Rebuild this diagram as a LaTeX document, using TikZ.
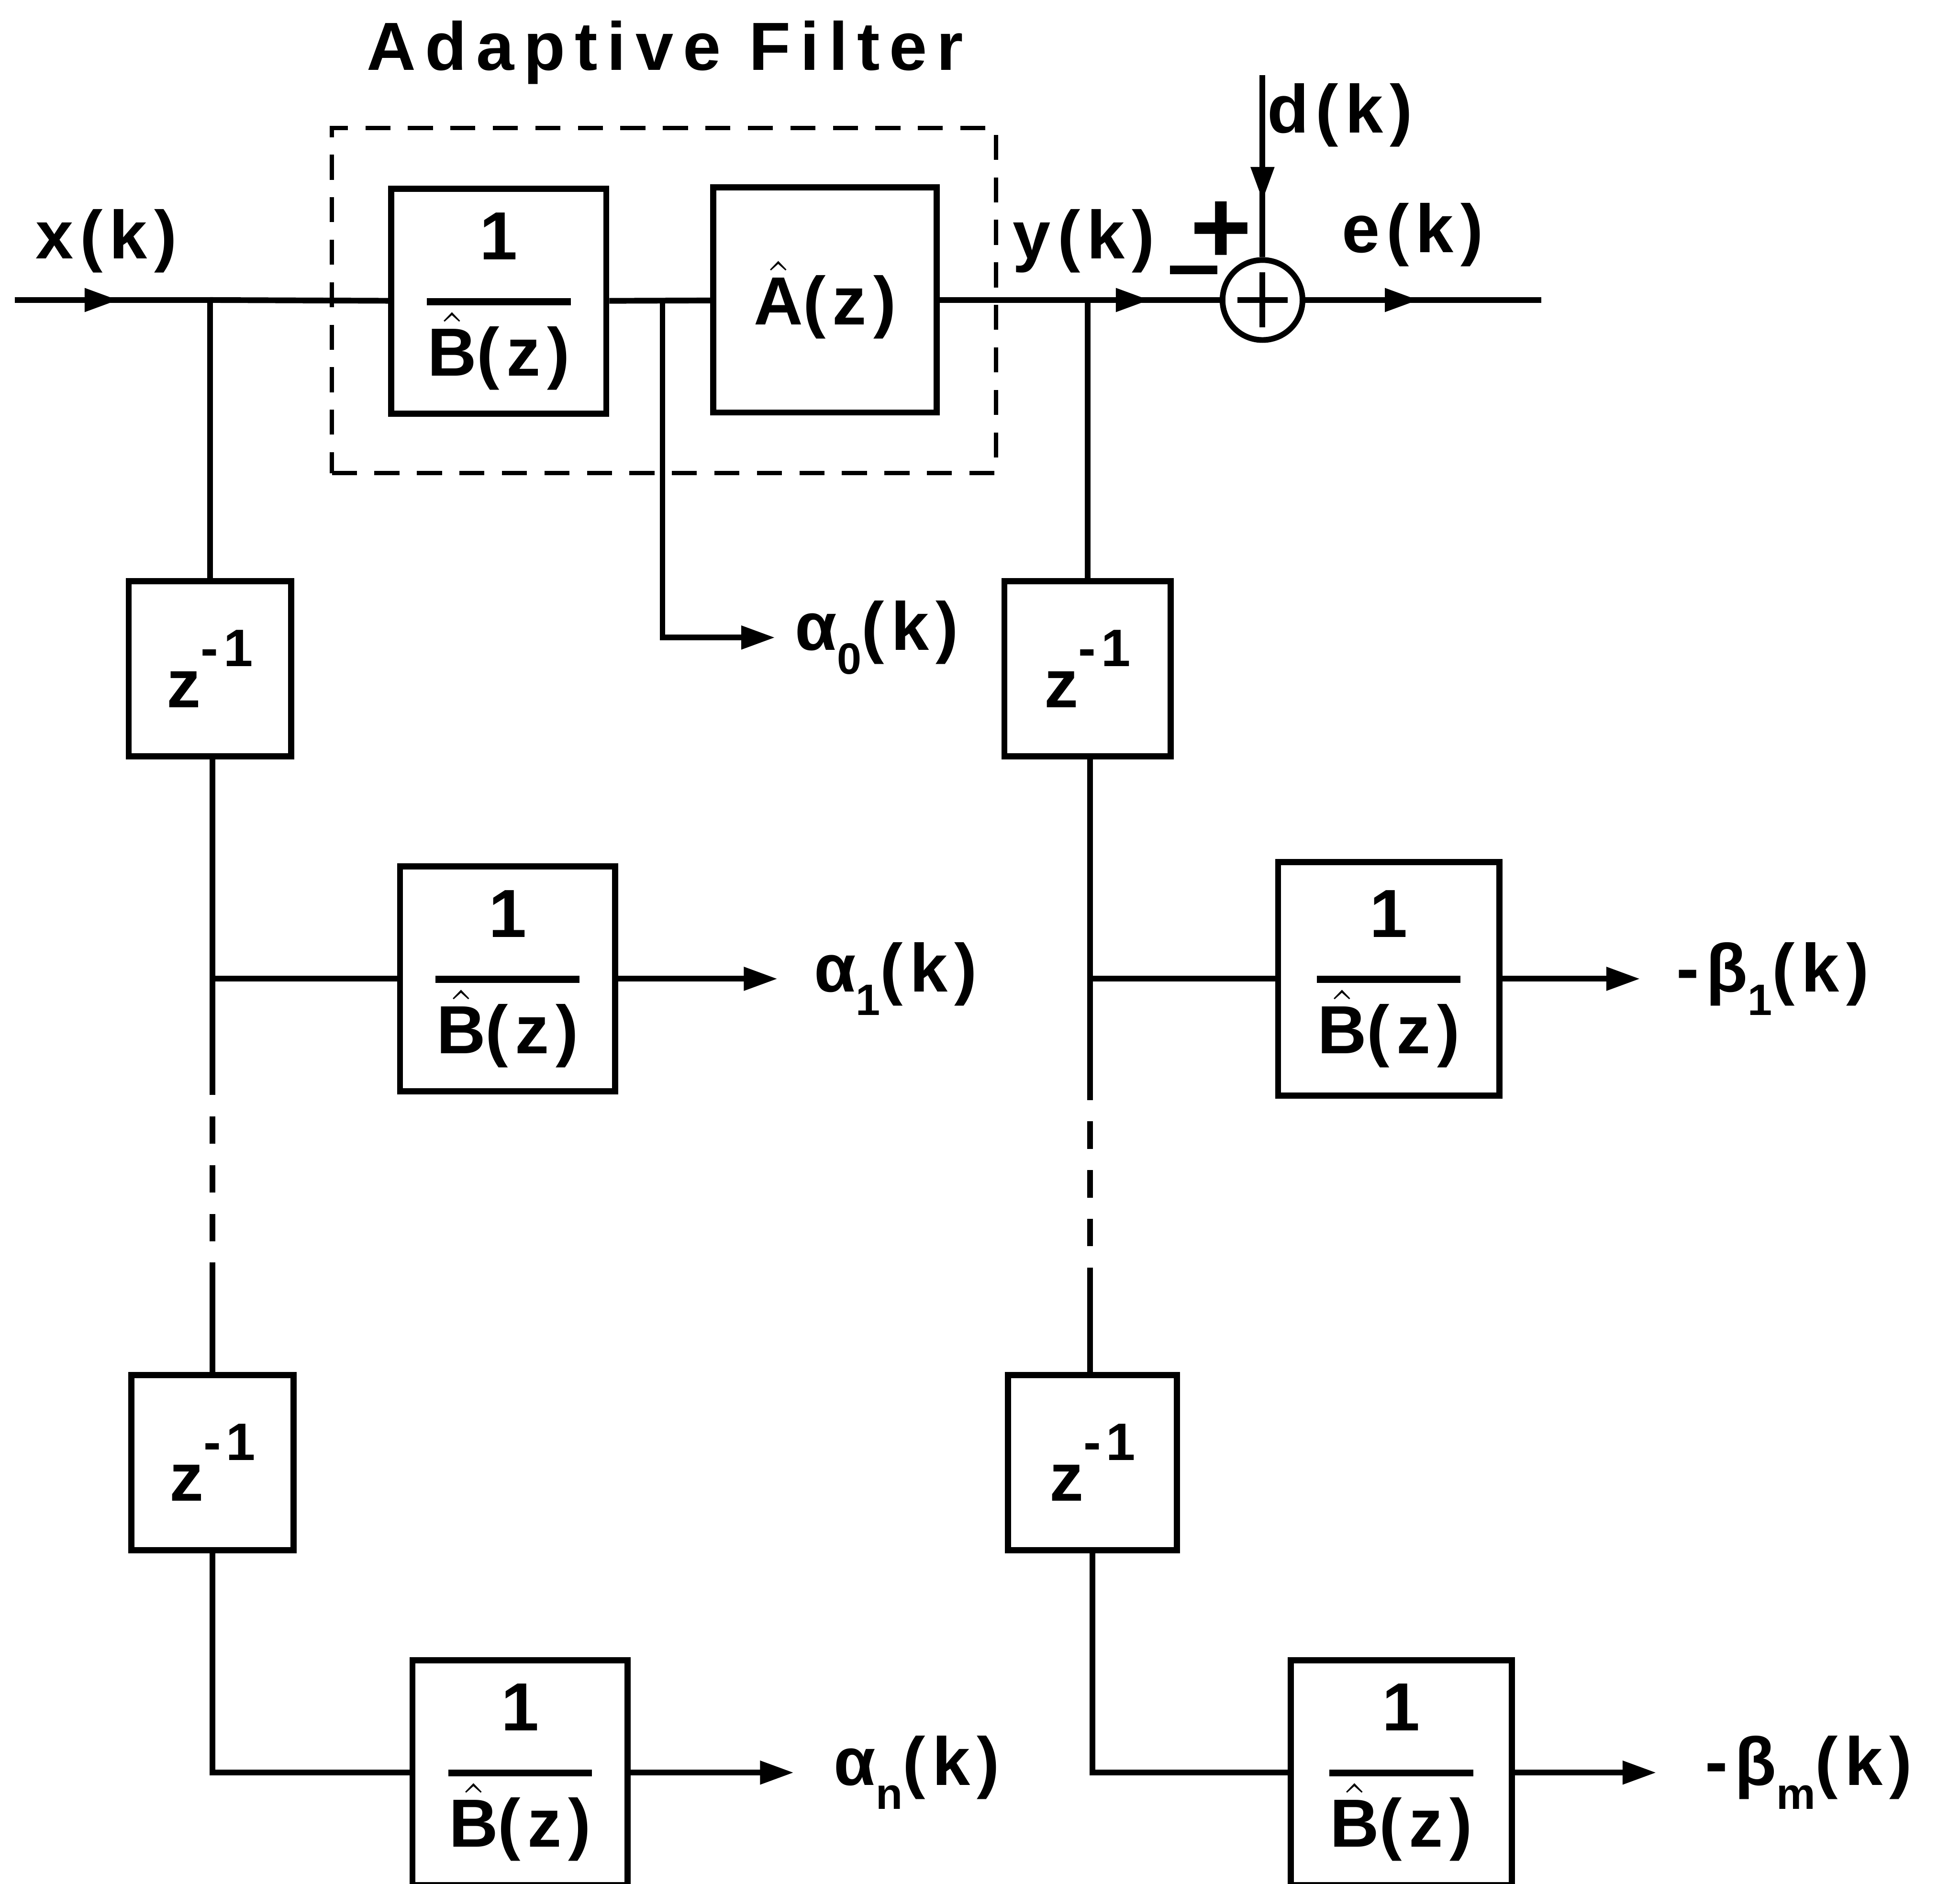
\documentclass[tikz,border=0pt]{standalone}
\usepackage{amsmath}
\usepackage{fontspec}
\setmainfont{Liberation Sans}[LetterSpace=10]
\usepackage{tikz}
\usetikzlibrary{positioning,arrows.meta,calc,fit,decorations.markings}
\newcommand{\sigfont}{\fontsize{15.5}{18}\selectfont\bfseries}
\newcommand{\est}[1]{$\hat{\text{#1}}$}
\newcommand{\recip}{1\\[-3.6pt]\rule{1.15cm}{1.6pt}\\[0.6pt]\est{B}(z)}
\newcommand{\zinv}{z\raisebox{0.6em}{\fontsize{12}{12}\selectfont -1}}
\newcommand{\lo}[1]{\raisebox{-0.35em}{\fontsize{10}{10}\selectfont #1}}
\tikzset{
  blk/.style      = {draw, line width=1.4pt, align=center, inner sep=0pt, font=\sigfont},
  recipbox/.style = {blk, minimum width=1.72cm, minimum height=1.80cm,
                     font=\fontsize{15.5}{14}\selectfont\bfseries},
  delay/.style    = {blk, minimum width=1.30cm, minimum height=1.40cm},
  sumnode/.style  = {draw, circle, line width=1.3pt, minimum size=0.64cm, inner sep=0pt},
  sig/.style      = {font=\sigfont, inner sep=1pt},
  wire/.style     = {line width=1.3pt},
  flow/.style     = {wire, -{Triangle[length=2.7mm,width=1.8mm]}},
  midflow/.style  = {wire, postaction=decorate, decoration={markings,
                     mark=at position #1 with {\arrow{Triangle[length=2.7mm,width=1.8mm]}}}},
  frame/.style    = {draw, line width=1pt, dash pattern=on 2mm off 1.4mm},
  gap/.style      = {wire, dash pattern=on 2.2mm off 1.7mm, dash phase=2.2mm},
}

\begin{document}
\begin{tikzpicture}
\useasboundingbox (0,0) rectangle (15.68,-15.07);

% --- adaptive filter ----------------------------------------------------
\node[recipbox] (invb) at (3.99,-2.41) {\recip};
\node[blk, minimum width=1.79cm, minimum height=1.80cm] (ahat) at (6.60,-2.40) {\est{A}(z)};
\node[frame, fit=(invb)(ahat), inner sep=0.45cm] (adf) {};
\node[sig, font=\sigfont\addfontfeatures{LetterSpace=14}] (title) at (5.32,-0.42) {Adaptive Filter};

% --- main signal line ---------------------------------------------------
\coordinate (xin) at (0.12,-2.40);
\coordinate (jx) at (1.68,-2.40);
\coordinate (ja) at (5.30,-2.40);
\coordinate (jy) at (8.70,-2.40);
\coordinate (eout) at (12.33,-2.40);
\coordinate (dtop) at (10.10,-0.60);
\node[sumnode] (sum) at (10.10,-2.40) {};
\draw[wire] ($(sum.center)+(0,0.22)$) -- ($(sum.center)+(0,-0.22)$);
\draw[wire] ($(sum.center)+(-0.2,0)$) -- ($(sum.center)+(0.2,0)$);

\draw[midflow=0.53] (xin) -- (jx);
\draw[wire] (jx) -- (invb);
\draw[wire] (invb) -- (ahat);
\draw[wire] (ahat) -- (jy);
\draw[midflow=0.47] (jy) -- (sum);
\draw[midflow=0.48] (sum) -- (eout);
\draw[midflow=0.69] (dtop) -- (sum);

\node[sig] (xk) at (0.85,-1.93) {x(k)};
\node[sig] (yk) at (8.67,-1.93) {y(k)};
\node[sig] (dk) at (10.72,-0.92) {d(k)};
\node[sig] (ek) at (11.30,-1.88) {e(k)};
\node[sig, font=\fontsize{24}{24}\selectfont\bfseries] (plus) at (9.77,-1.86) {+};
\node[inner sep=0pt] (minus) at (9.55,-2.16) {\rule{0.38cm}{2pt}};

% alpha_0 tap
\coordinate (a0tip) at (6.20,-5.10);
\draw[flow] (ja) |- (a0tip);
\node[sig, right=0.12cm of a0tip] (a0) {α\lo{0}(k)};

% --- input delay chain --------------------------------------------------
\node[delay] (z1) at (1.68,-5.35) {\zinv};
\node[recipbox] (b1) at (4.06,-7.83) {\recip};
\node[delay] (z2) at (1.70,-11.70) {\zinv};
\node[recipbox] (bn) at (4.16,-14.18) {\recip};
\coordinate (l1) at (1.70,-7.83);
\coordinate (l2) at (1.70,-8.76);
\coordinate (l3) at (1.70,-10.15);
\coordinate (a1tip) at (6.22,-7.83);
\coordinate (antip) at (6.35,-14.18);
\draw[wire] (jx) -- (z1);
\draw[wire] (z1.south -| l2) -- (l2);
\draw[wire] (l1) -- (b1);
\draw[gap] (l2) -- (l3);
\draw[wire] (l3) -- (z2);
\draw[wire] (z2) |- (bn);
\draw[flow] (b1) -- (a1tip);
\draw[flow] (bn) -- (antip);
\node[sig, right=0.25cm of a1tip] (a1) {α\lo{1}(k)};
\node[sig, right=0.28cm of antip] (an) {α\lo{n}(k)};

% --- output delay chain -------------------------------------------------
\node[delay, minimum width=1.33cm] (z3) at (8.70,-5.35) {\zinv};
\node[recipbox, minimum width=1.77cm, minimum height=1.87cm] (b2) at (11.11,-7.83) {\recip};
\node[delay, minimum width=1.35cm] (z4) at (8.74,-11.70) {\zinv};
\node[recipbox, minimum width=1.77cm] (bm) at (11.21,-14.18) {\recip};
\coordinate (r1) at (8.72,-7.83);
\coordinate (r2) at (8.72,-8.80);
\coordinate (r3) at (8.72,-10.25);
\coordinate (b1tip) at (13.12,-7.83);
\coordinate (bmtip) at (13.25,-14.18);
\draw[wire] (jy) -- (z3);
\draw[wire] (z3.south -| r2) -- (r2);
\draw[wire] (r1) -- (b2);
\draw[gap] (r2) -- (r3);
\draw[wire] (r3) -- (z4.north -| r3);
\draw[wire] (z4) |- (bm);
\draw[flow] (b2) -- (b1tip);
\draw[flow] (bm) -- (bmtip);
\node[sig, right=0.25cm of b1tip] (mb1) {-β\lo{1}(k)};
\node[sig, right=0.35cm of bmtip] (mbm) {-β\lo{m}(k)};

\end{tikzpicture}
\end{document}
